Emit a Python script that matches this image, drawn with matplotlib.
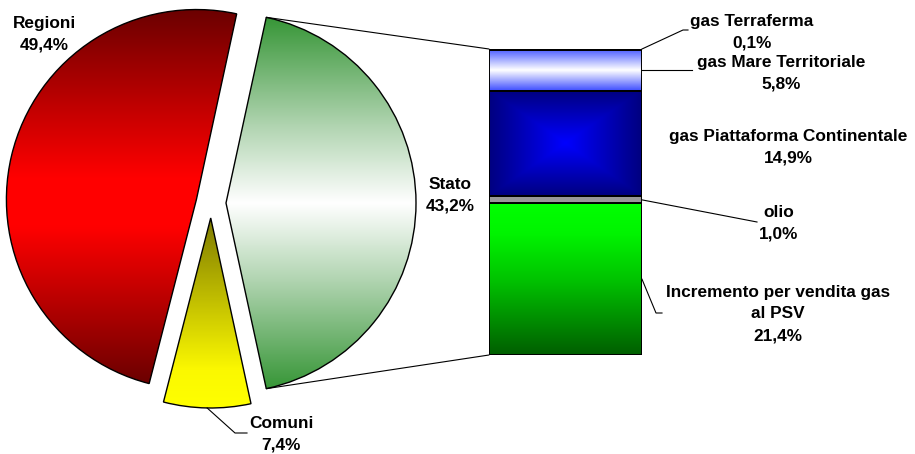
import matplotlib.pyplot as plt
import numpy as np
from matplotlib.colors import LinearSegmentedColormap
from matplotlib.patches import ConnectionPatch

plt.rcParams['font.family'] = ['Liberation Sans', 'DejaVu Sans']

# Ripartizione delle royalties (%)
pie_labels = ['Stato', 'Regioni', 'Comuni']
pie_values = [43.2, 49.4, 7.4]

# Composizione della quota Stato, dal basso verso l'alto
bar_labels = ['Incremento per vendita gas\nal PSV', 'olio',
              'gas Piattaforma Continentale', 'gas Mare Territoriale',
              'gas Terraferma']
bar_values = [21.4, 1.0, 14.9, 5.8, 0.1]

W, H = 915, 454
FS = 12.4


def pct(v):
    return f'{v:.1f}'.replace('.', ',') + '%'


def fill_gradient(ax, patch, stops, kind='v'):
    """Paint a gradient image clipped to the patch outline."""
    ext = patch.get_patch_transform().transform_path(patch.get_path()).get_extents()
    cmap = LinearSegmentedColormap.from_list('g', stops)
    if kind == 'v':
        arr = np.linspace(0, 1, 256)[:, None]
    else:
        u, v = np.meshgrid(np.linspace(-1, 1, 200), np.linspace(-1, 1, 200))
        arr = np.maximum(np.abs(u), np.abs(v))
    im = ax.imshow(arr, cmap=cmap, vmin=0, vmax=1, origin='lower', aspect='auto',
                   interpolation='bilinear', zorder=1,
                   extent=(ext.x0, ext.x1, ext.y0, ext.y1))
    im.set_clip_path(patch)


fig = plt.figure(figsize=(W / 100, H / 100), dpi=100)
ax = fig.add_axes([0, 0, 1, 1])

# torta: Stato a destra, centrato sull'asse orizzontale (explode in pixel)
start = -pie_values[0] / sum(pie_values) * 180
wedges, _ = ax.pie(pie_values, explode=[15] * 3, startangle=start,
                   radius=190, center=(211, H - 203), frame=True,
                   wedgeprops=dict(fc='none', ec='black', lw=1.0, zorder=3))

pie_grad = [
    [(0, '#379637'), (0.3, '#b4d6b4'), (0.5, '#ffffff'), (0.7, '#b4d6b4'), (1, '#379637')],
    [(0, '#6b0000'), (0.42, '#ff0000'), (0.55, '#ff0000'), (1, '#6b0000')],
    [(0, '#ffff00'), (0.2, '#fbf800'), (1, '#7d7a00')],
]
for w, g in zip(wedges, pie_grad):
    fill_gradient(ax, w, g)

ax.set_xlim(0, W)
ax.set_ylim(0, H)
ax.axis('off')

# barra della quota Stato
ax_bar = fig.add_axes([489 / W, 99 / H, 153 / W, 306 / H])
bottoms = np.concatenate([[0], np.cumsum(bar_values)[:-1]])
total = sum(bar_values)
bars = ax_bar.bar(0, bar_values, bottom=bottoms, width=1.0,
                  fc='none', ec='black', lw=1.4, zorder=3)

bar_fill = [
    ('v', [(0, '#005e00'), (0.5, '#00c400'), (0.8, '#00f400'), (1, '#00ff00')]),
    ('solid', '#999999'),
    ('box', [(0, '#0000ff'), (1, '#000080')]),
    ('v', [(0, '#3c4cff'), (0.5, '#ffffff'), (1, '#4a5cff')]),
    ('solid', '#8a8aff'),
]
for b, (kind, spec) in zip(bars, bar_fill):
    if kind == 'solid':
        b.set_facecolor(spec)
    else:
        fill_gradient(ax_bar, b, spec, kind)

ax_bar.set_xlim(-0.5, 0.5)
ax_bar.set_ylim(0, total)
ax_bar.axis('off')

# linee di collegamento tra la fetta Stato e la barra
st = wedges[0]
for ang, yb in [(st.theta2, total), (st.theta1, 0)]:
    a = np.deg2rad(ang)
    p = (st.center[0] + st.r * np.cos(a), st.center[1] + st.r * np.sin(a))
    con = ConnectionPatch(xyA=p, coordsA=ax.transData, xyB=(-0.5, yb),
                          coordsB=ax_bar.transData, color='black', lw=0.8)
    fig.add_artist(con)


def bar_px(x, y):
    return ax.transData.inverted().transform(ax_bar.transData.transform((x, y)))


txt = dict(ha='center', va='center', fontsize=FS, fontweight='bold',
           linespacing=1.55, zorder=5)

# etichette della torta
pie_pos = [(450, 195), (44, 34), (281, 434)]
for name, v, (x, y) in zip(pie_labels, pie_values, pie_pos):
    ax.text(x, H - y, f'{name}\n{pct(v)}', **txt)

cm = wedges[2]
a = np.deg2rad((cm.theta1 + cm.theta2) / 2)
p0 = (cm.center[0] + cm.r * np.cos(a), cm.center[1] + cm.r * np.sin(a))
ax.plot([p0[0], 235, 247], [p0[1], H - 433, H - 433], color='black', lw=0.8)

# etichette della barra
bar_pos = [(778, 314), (779, 223), (788, 147), (781, 73), (752, 32)]
for name, v, (x, y) in zip(bar_labels, bar_values, bar_pos):
    ax.text(x, H - y, f'{name}\n{pct(v)}', **txt)

mids = bottoms + np.array(bar_values) / 2
leaders = [
    (bar_px(0.5, mids[0]), [(656, 313), (662, 313)]),
    (bar_px(0.5, mids[1]), [(757, 222)]),
    (bar_px(0.5, mids[3]), [(692, None)]),
    (bar_px(0.5, total), [(683, 30), (688, 30)]),
]
for (sx, sy), pts in leaders:
    xs = [sx] + [q[0] for q in pts]
    ys = [sy] + [sy if q[1] is None else H - q[1] for q in pts]
    ax.plot(xs, ys, color='black', lw=0.8)

fig.savefig('out.png', dpi=100)
